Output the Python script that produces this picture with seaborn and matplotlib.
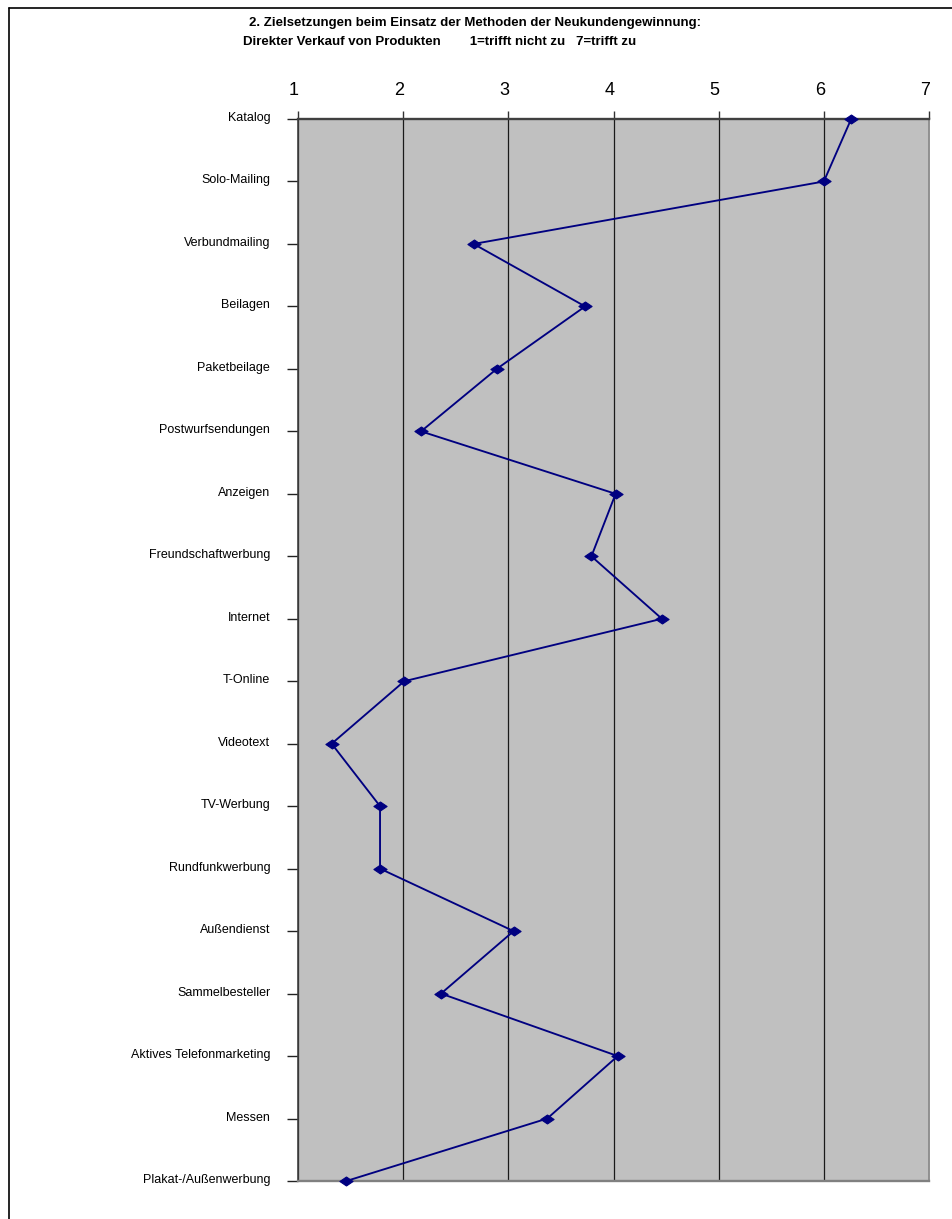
import matplotlib
matplotlib.use("Agg")
import matplotlib.pyplot as plt
import matplotlib.transforms as mtransforms
from matplotlib.lines import Line2D
from matplotlib.path import Path
import seaborn as sns
import pandas as pd

# ---- data ----
categories = [
    "Katalog", "Solo-Mailing", "Verbundmailing", "Beilagen", "Paketbeilage",
    "Postwurfsendungen", "Anzeigen", "Freundschaftwerbung", "Internet",
    "T-Online", "Videotext", "TV-Werbung", "Rundfunkwerbung", "Außendienst",
    "Sammelbesteller", "Aktives Telefonmarketing", "Messen",
    "Plakat-/Außenwerbung",
]
values = [
    6.26, 6.00, 2.67, 3.73, 2.89,
    2.17, 4.02, 3.79, 4.46,
    2.01, 1.32, 1.78, 1.78, 3.05,
    2.36, 4.04, 3.37,
    1.46,
]
x_ticks = [1, 2, 3, 4, 5, 6, 7]
x_tick_labels = ["1", "2", "3", "4", "5", "6", "7"]
title_line1 = "2. Zielsetzungen beim Einsatz der Methoden der Neukundengewinnung:"
title_line2 = "Direkter Verkauf von Produkten        1=trifft nicht zu   7=trifft zu"

# ---- style ----
sns.set_theme(style="white")
plt.rcParams['font.family'] = ['Liberation Sans', 'DejaVu Sans']

W, H = 952, 1219
fig = plt.figure(figsize=(W / 100, H / 100), dpi=100)
fig.patch.set_facecolor("white")

left, right, top, bottom = 298, 929, 119, 1181
ax = fig.add_axes([left / W, 1 - bottom / H, (right - left) / W, (bottom - top) / H])
ax.set_facecolor("#C0C0C0")

df = pd.DataFrame({
    "Methode": categories,
    "Wert": values,
    "pos": list(range(len(categories))),
})

diamond = Path([(-1.0, 0.0), (0.0, 0.68), (1.0, 0.0), (0.0, -0.68), (-1.0, 0.0)],
               [Path.MOVETO, Path.LINETO, Path.LINETO, Path.LINETO, Path.CLOSEPOLY])

sns.lineplot(data=df, x="Wert", y="pos", sort=False, orient="y", ax=ax,
             color="#000080", linewidth=1.35, marker=diamond, markersize=9.5,
             markerfacecolor="#000080", markeredgecolor="#000080",
             markeredgewidth=0.8, legend=False)
for ln in ax.get_lines():
    ln.set_clip_on(False)
    ln.set_zorder(5)

n = len(categories)
ax.set_xlim(x_ticks[0], x_ticks[-1])
ax.set_ylim(n - 1, 0)
ax.set_xlabel("")
ax.set_ylabel("")

# x axis on top
ax.set_xticks(x_ticks)
ax.set_xticklabels(x_tick_labels)
ax.xaxis.tick_top()
ax.tick_params(axis="x", which="both", top=True, bottom=False, labeltop=True,
               labelbottom=False, direction="out", length=5.8, width=1.0,
               color="#333333", pad=8.5, labelsize=13, labelcolor="black")
shift_x = mtransforms.ScaledTranslation(-4 / 100, 0, fig.dpi_scale_trans)
for lab in ax.get_xticklabels():
    lab.set_transform(lab.get_transform() + shift_x)

# y axis categories
ax.set_yticks(list(range(n)))
ax.set_yticklabels(categories)
ax.tick_params(axis="y", which="both", left=True, direction="out", length=8,
               width=1.0, color="#222222", pad=12, labelsize=9, labelcolor="black")
shift_y = mtransforms.ScaledTranslation(0, 2.5 / 100, fig.dpi_scale_trans)
for lab in ax.get_yticklabels():
    lab.set_transform(lab.get_transform() + shift_y)

# vertical gridlines
ax.grid(axis="x", color="#1a1a1a", linewidth=0.9)
ax.grid(axis="y", visible=False)
ax.set_axisbelow(True)

# spines
ax.spines["top"].set_color("#404040")
ax.spines["top"].set_linewidth(1.7)
ax.spines["bottom"].set_color("#808080")
ax.spines["bottom"].set_linewidth(1.7)
ax.spines["left"].set_color("#404040")
ax.spines["left"].set_linewidth(1.2)
ax.spines["right"].set_color("#909090")
ax.spines["right"].set_linewidth(1.4)
for s in ax.spines.values():
    s.set_visible(True)

# title
fig.text(475 / W, 1 - 23 / H, title_line1, ha="center", va="center",
         fontsize=9.5, fontweight="bold", color="black")
fig.text(440 / W, 1 - 42 / H, title_line2, ha="center", va="center",
         fontsize=9.5, fontweight="bold", color="black")

# outer frame (top and left edges visible in the reference)
fig.add_artist(Line2D([9 / W, 9 / W], [0, 1 - 8 / H], transform=fig.transFigure,
                      color="black", linewidth=1.2))
fig.add_artist(Line2D([9 / W, 1], [1 - 8 / H, 1 - 8 / H], transform=fig.transFigure,
                      color="black", linewidth=1.2))

fig.savefig("out.png", dpi=100)
